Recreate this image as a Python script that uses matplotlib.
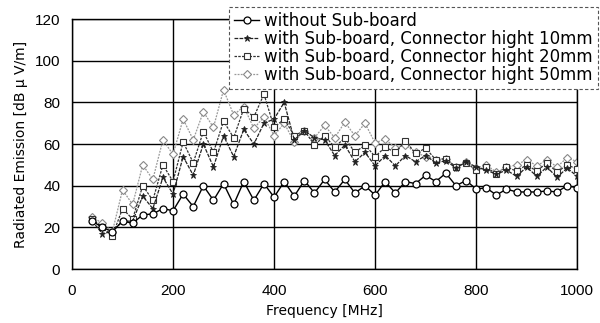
import matplotlib
matplotlib.use("Agg")
import matplotlib.pyplot as plt

plt.rcParams['font.family'] = ['DejaVu Sans']

freq = list(range(40, 1001, 20))

without = [23, 20, 18, 23, 22, 26, 26.5, 29, 28, 36, 30, 40, 33, 41, 31, 42, 33, 41, 34.5, 42, 35,
           42.5, 36.5, 43, 37, 43, 36.5, 40, 35.5, 42, 36.5, 42, 41, 45, 42, 46, 40, 42.5, 38.4,
           39, 35.5, 38.4, 37, 37, 37, 37.5, 37, 40, 39]

h10 = [23, 17, 18, 23, 23, 35, 29, 44, 36, 54, 45, 60, 49, 64, 54, 67, 60, 70, 72, 80, 62,
       66.5, 63, 62, 54.5, 59.5, 51.5, 56, 49.5, 54.5, 49.5, 54.5, 51.5, 54.5, 51, 52, 48.5, 51.5, 49,
       47.5, 45.5, 47.5, 44.5, 49, 44.5, 49, 44, 48.5, 44.5]

h20 = [24, 20, 16, 29, 24, 40, 33, 50, 42, 61, 51, 66, 56, 71, 63, 77, 73, 84, 68, 72, 64,
       66.5, 59.5, 64, 58.5, 63, 56, 59.5, 54, 58.5, 56, 61.5, 55.5, 58, 52.5, 53, 49, 51, 47.5,
       49, 45.5, 49, 47, 50, 47, 51, 46.5, 50, 48]

h50 = [25, 22, 18, 38, 31, 50, 43, 62, 55, 72, 62, 75.5, 68, 86, 74, 78, 67.5, 73, 64, 70, 61,
       66.5, 63, 69, 63, 70.5, 64, 70, 60.5, 62.5, 58, 59.5, 56, 54, 52.5, 53, 49, 51.5, 48.5,
       50, 46.5, 49, 50, 52.5, 49.5, 52.5, 49, 53.5, 51.5]

labels = ["without Sub-board",
          "with Sub-board, Connector hight 10mm",
          "with Sub-board, Connector hight 20mm",
          "with Sub-board, Connector hight 50mm"]

fig = plt.figure(figsize=(6, 3.23), dpi=100)
ax = fig.add_axes([0.12, 0.167, 0.842, 0.774])

ax.plot(freq, without, color='black', lw=1.0, ls='-', marker='o', ms=5,
        mfc='white', mec='black', mew=0.9, label=labels[0], zorder=5)
ax.plot(freq, h10, color='#222222', lw=0.9, ls=(0, (3, 1)), marker='*', ms=5,
        mfc='#222222', mec='#222222', mew=0.6, label=labels[1], zorder=4)
ax.plot(freq, h20, color='#333333', lw=0.9, ls=(0, (2, 1)), marker='s', ms=4.5,
        mfc='white', mec='#333333', mew=0.8, label=labels[2], zorder=3)
ax.plot(freq, h50, color='#999999', lw=0.9, ls=(0, (1.5, 1)), marker='D', ms=4,
        mfc='white', mec='#888888', mew=0.8, label=labels[3], zorder=2)

ax.set_xlim(0, 1000)
ax.set_ylim(0, 120)
ax.set_xticks(range(0, 1001, 200))
ax.set_yticks(range(0, 121, 20))
ax.grid(True, color='black', lw=1.0)
ax.set_axisbelow(True)
ax.tick_params(axis='x', length=0, pad=11)
ax.tick_params(axis='y', length=0, pad=8.5)
for lab in ax.get_xticklabels() + ax.get_yticklabels():
    lab.set_fontfamily('Liberation Sans')
    lab.set_fontsize(11)
for s in ax.spines.values():
    s.set_color('black')
    s.set_linewidth(1.0)

ax.set_xlabel("Frequency [MHz]", fontsize=10, labelpad=4)
ax.set_ylabel("Radiated Emission [dB μ V/m]", fontsize=10, labelpad=5)

leg = fig.legend(loc='upper right', bbox_to_anchor=(598/600, 1 - 7/323),
                 bbox_transform=fig.transFigure, fontsize=12, handlelength=1.5,
                 handletextpad=0.3, borderpad=0.3, labelspacing=0.0,
                 borderaxespad=0, fancybox=False, framealpha=1, edgecolor='#555555')
leg.get_frame().set_linestyle((0, (3, 2)))
leg.get_frame().set_linewidth(0.8)

fig.savefig("out.png", dpi=100)
